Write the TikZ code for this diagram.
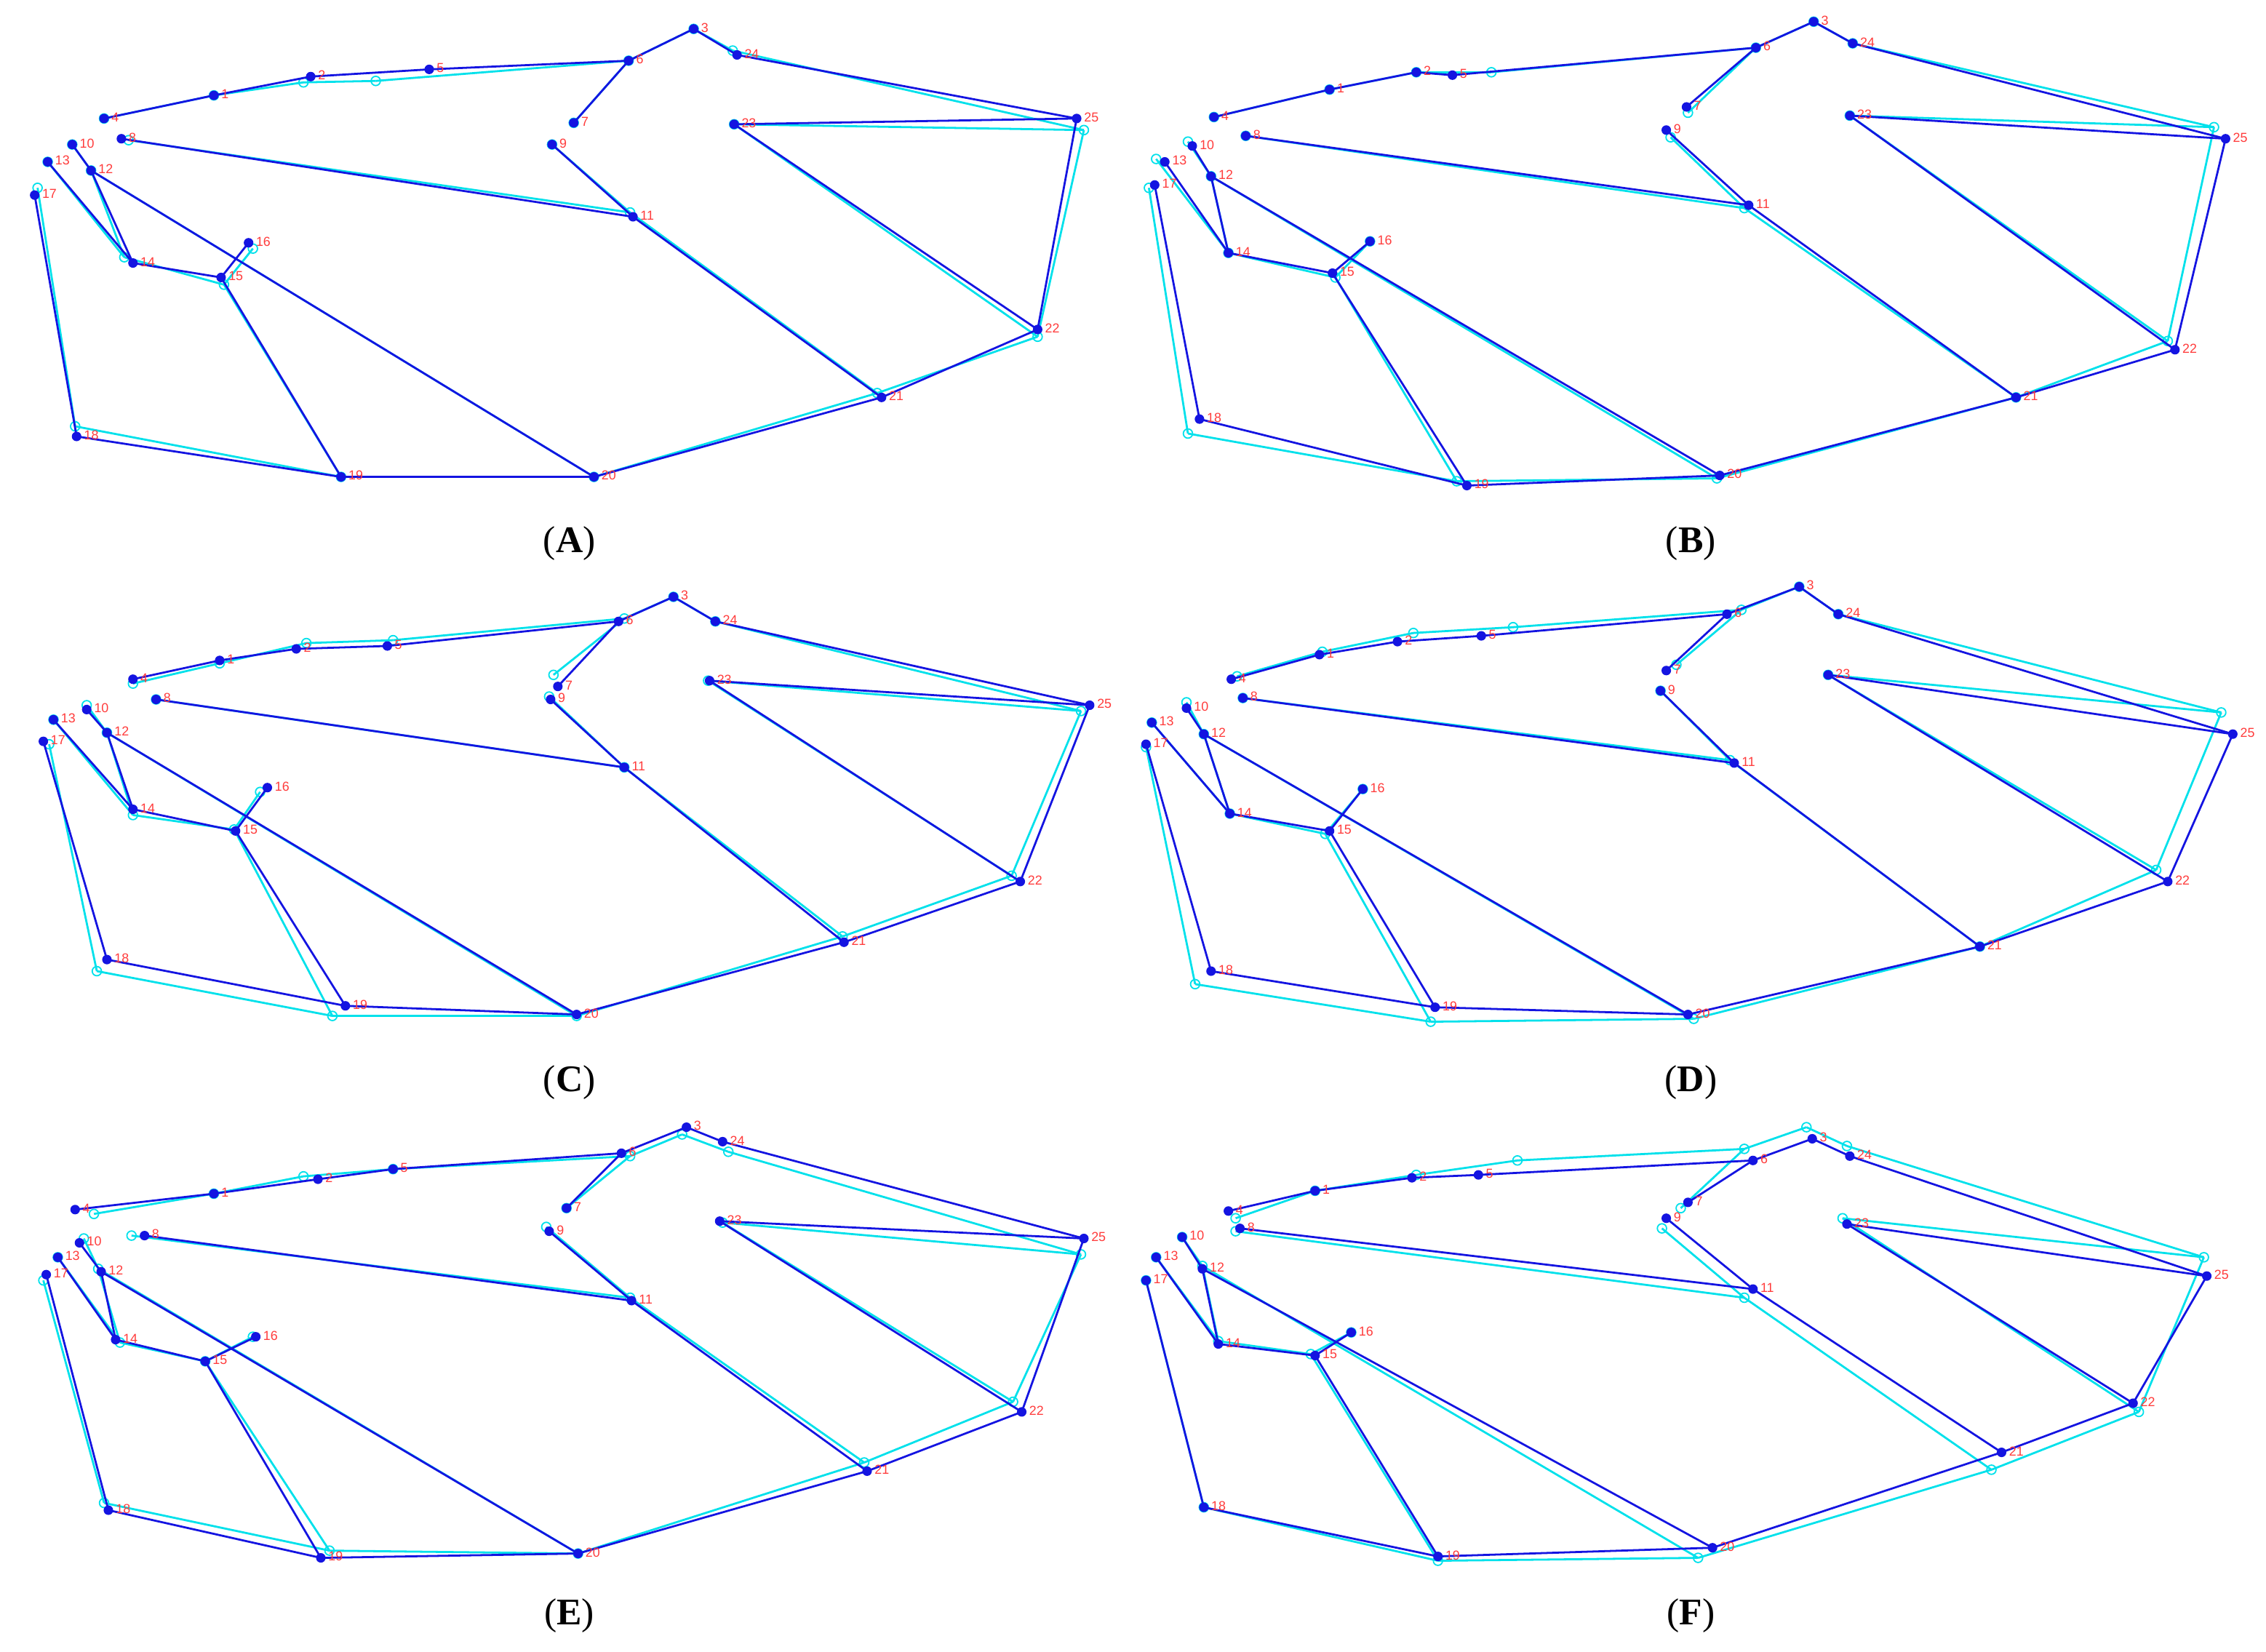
\documentclass[tikz,border=0pt]{standalone}
\usepackage{fontspec}
\setmainfont{Liberation Serif}
\newfontfamily\labfont{Liberation Sans}
\definecolor{wb}{RGB}{20,20,225}
\definecolor{wc}{RGB}{0,225,235}
\definecolor{wr}{RGB}{255,60,60}
\newcommand\wedges{4/1,1/2,2/5,5/6,6/3,3/24,24/25,25/22,22/21,21/20,20/19,19/18,18/17,6/7,9/11,8/11,11/21,23/25,23/22,10/12,12/14,13/14,12/20,14/15,15/16,15/19}
\newcommand\wpanel[3]{%
 \foreach \n/\x/\y in {#2} {\coordinate (#1b\n) at (\x,\y); \coordinate (#1c\n) at (\x,\y);}
 \foreach \n/\x/\y in {#3} {\coordinate (#1c\n) at (\x,\y);}
 \foreach \a/\b in \wedges {\draw[cl] (#1c\a) -- (#1c\b);}
 \foreach \n in {1,...,25} {\draw[cd] (#1c\n) circle (3.2pt);}
 \foreach \a/\b in \wedges {\draw[bl] (#1b\a) -- (#1b\b);}
 \foreach \n in {1,...,25} {\fill[wb] (#1b\n) circle (3.3pt);
   \node[lab] at (#1b\n) {\n};}
}
\tikzset{
 cl/.style={wc,line width=1.4pt},
 cd/.style={wc,line width=0.9pt},
 bl/.style={wb,line width=1.4pt},
 lab/.style={wr,font=\labfont\fontsize{9}{9}\selectfont,anchor=south west,inner sep=0pt,xshift=5pt,yshift=-2.5pt},
 capt/.style={font=\fontsize{26}{26}\selectfont}
}
\begin{document}
\begin{tikzpicture}[x=1pt,y=-1pt]
\useasboundingbox (0,0) rectangle (1568,1143);
\fill[white] (0,0) rectangle (1568,1143);
% A
\wpanel{A}{4/72/82,1/148/66,2/215/53,5/297/48,6/435/42,3/480/20,24/510/38,25/745/82,23/508/86,7/397/85,9/382/100,8/84/96,10/50/100,13/33/112,12/63/118,17/24/135,11/438/150,14/92/182,15/153/192,16/172/168,22/718/228,21/610/275,18/53/302,19/236/330,20/411/330}
{2/210/57,5/260/56,25/750/90,18/52/295,14/86/178,22/718/233,17/26/130,8/89/97,16/175/172,15/155/197,24/507/35,11/436/147,21/607/272}
% B
\wpanel{B}{4/840/81,1/920/62,2/980/50,5/1005/52,6/1215/33,3/1255/15,24/1282/30,25/1540/96,23/1280/80,7/1167/74,9/1153/90,8/862/94,10/825/101,13/806/112,12/838/122,17/799/128,11/1210/142,14/850/175,15/922/189,16/948/167,22/1505/242,21/1395/275,18/830/290,19/1015/336,20/1190/329}
{5/1032/50,25/1532/88,22/1500/236,18/822/300,19/1008/333,17/795/130,13/800/110,10/822/98,15/924/192,11/1207/144,9/1156/95,7/1168/78,20/1188/331}
% C
\wpanel{C}{4/92/470,1/152/457,2/205/449,5/268/447,6/428/430,3/466/413,24/495/430,25/754/488,23/491/471,7/386/475,9/381/484,8/108/484,10/60/491,13/37/498,12/74/507,17/30/513,11/432/531,14/92/560,15/163/575,16/185/545,22/706/610,21/584/652,18/74/664,19/239/696,20/399/702}
{4/92/473,1/152/459,2/212/445,5/272/443,6/432/428,7/383/467,9/380/482,25/748/492,22/700/606,21/583/648,18/67/672,19/230/703,20/399/703,17/34/515,14/92/564,15/162/574,16/180/548,23/490/471,10/60/488}
% D
\wpanel{D}{4/852/470,1/913/453,2/967/444,5/1025/440,6/1195/425,3/1245/406,24/1272/425,25/1545/508,23/1265/467,7/1153/464,9/1149/478,8/860/483,10/821/490,13/797/500,12/833/508,17/793/515,11/1200/528,14/851/563,15/920/575,16/943/546,22/1500/610,21/1370/655,18/838/672,19/993/697,20/1168/702}
{4/856/468,1/915/451,2/978/438,5/1047/434,6/1205/422,7/1160/460,25/1537/493,22/1492/602,18/827/681,19/990/707,20/1172/705,11/1197/526,17/793/517,10/821/486,15/917/577}
% E
\wpanel{E}{4/52/837,1/148/826,2/220/816,5/272/809,6/430/798,3/475/780,24/500/790,25/750/857,23/498/845,7/392/836,9/380/852,8/100/855,10/55/860,13/40/870,12/70/880,17/32/882,11/437/900,14/80/927,15/142/942,16/177/925,22/707/977,21/600/1018,18/75/1045,19/222/1078,20/400/1075}
{4/65/840,2/210/814,6/436/800,24/504/797,3/472/785,25/748/868,23/500/846,22/701/970,21/598/1012,18/72/1040,19/228/1073,8/91/855,9/378/849,17/30/886,10/58/857,12/68/878,14/83/929,16/175/925,11/436/898}
% F
\wpanel{F}{4/850/838,1/910/824,2/977/815,5/1023/813,6/1213/803,3/1254/788,24/1280/800,25/1527/883,23/1278/847,7/1168/832,9/1153/843,8/858/850,10/818/856,13/800/870,12/832/878,17/793/886,11/1213/892,14/843/930,15/910/938,16/935/922,22/1476/971,21/1385/1005,18/833/1043,19/995/1077,20/1185/1071}
{4/855/843,2/980/813,5/1050/803,6/1207/795,3/1250/780,24/1278/793,25/1525/870,23/1275/843,22/1480/977,21/1378/1017,20/1175/1078,19/995/1080,8/855/852,11/1207/898,9/1150/850,7/1163/836,14/843/928,15/907/937,12/832/876}
% captions
\node[capt] (capA) at (394,376) {(\textbf{A})};
\node[capt] (capB) at (1170,376) {(\textbf{B})};
\node[capt] (capC) at (394,749) {(\textbf{C})};
\node[capt] (capD) at (1170,749) {(\textbf{D})};
\node[capt] (capE) at (394,1118) {(\textbf{E})};
\node[capt] (capF) at (1170,1118) {(\textbf{F})};
\end{tikzpicture}
\end{document}
